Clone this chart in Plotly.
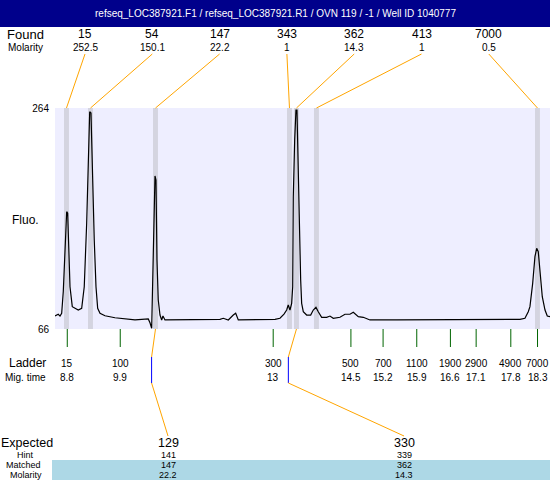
import numpy as np
import plotly.graph_objects as go

# ---------------- data ----------------
title_text = "refseq_LOC387921.F1 / refseq_LOC387921.R1 / OVN 119 / -1 / Well ID 1040777"

found_bp = [15, 54, 147, 343, 362, 413, 7000]
found_molarity = ["252.5", "150.1", "22.2", "1", "14.3", "1", "0.5"]
found_time = [8.784, 9.269, 10.582, 13.289, 13.430, 13.834, 18.299]

ladder_bp = [15, 100, 300, 500, 700, 1100, 1900, 2900, 4900, 7000]
ladder_time = [8.80, 9.87, 12.96, 14.53, 15.18, 15.86, 16.54, 17.06, 17.76, 18.30]
ladder_time_labels = ["8.8", "9.9", "13", "14.5", "15.2", "15.9", "16.6", "17.1", "17.8", "18.3"]

expected_bp = [129, 330]
hint_bp = [141, 339]
matched_bp = [147, 362]
matched_molarity = ["22.2", "14.3"]

y_ticks = [66, 264]

trace_time = [8.552, 8.618, 8.653, 8.687, 8.719, 8.754, 8.788, 8.808, 8.834, 8.855,
              8.901, 8.956, 9.022, 9.091, 9.143, 9.192, 9.224, 9.253, 9.279, 9.305,
              9.345, 9.380, 9.414, 9.461, 9.562, 9.764, 9.966, 10.168, 10.436, 10.471,
              10.505, 10.525, 10.552, 10.572, 10.592, 10.612, 10.638, 10.673, 10.707, 10.733,
              10.774, 10.976, 11.885, 11.952, 12.053, 12.154, 12.202, 12.255, 12.558, 12.626,
              12.861, 12.996, 13.097, 13.178, 13.232, 13.264, 13.299, 13.333, 13.354, 13.366,
              13.394, 13.420, 13.440, 13.461, 13.487, 13.515, 13.535, 13.568, 13.636, 13.717,
              13.770, 13.824, 13.871, 13.939, 14.040, 14.107, 14.174, 14.309, 14.410, 14.511,
              14.578, 14.679, 14.780, 14.915, 15.454, 16.598, 17.608, 17.778, 17.945, 18.046,
              18.113, 18.147, 18.202, 18.248, 18.283, 18.315, 18.349, 18.396, 18.451, 18.497,
              18.552]
trace_fluo = [77.6, 79.2, 77.6, 80.1, 99.4, 133.8, 171.1, 169.7, 134.1, 103.9,
              86.0, 84.5, 83.0, 84.5, 103.9, 160.7, 217.4, 260.7, 259.5, 211.4,
              145.7, 103.9, 84.5, 80.1, 77.9, 76.1, 75.0, 74.1, 75.0, 71.6,
              66.6, 103.9, 151.7, 203.1, 199.5, 127.8, 92.0, 78.5, 74.1, 77.6,
              74.1, 74.1, 74.7, 75.6, 74.1, 78.5, 80.1, 74.1, 74.1, 74.7,
              74.1, 74.7, 75.6, 79.4, 83.0, 87.5, 83.0, 89.0, 103.9, 184.5,
              235.3, 262.2, 262.2, 211.4, 151.7, 109.9, 89.0, 81.5, 78.5, 78.5,
              83.0, 85.4, 81.5, 76.5, 76.5, 77.6, 75.6, 76.5, 79.2, 79.2,
              81.0, 77.0, 76.5, 74.1, 74.1, 74.1, 74.7, 74.1, 74.7, 75.6,
              81.5, 86.0, 106.9, 130.8, 138.3, 135.3, 115.9, 94.9, 83.0, 77.6,
              77.0]

# ---------------- layout helpers ----------------
W, H = 550, 480
ML, MR, MT, MB = 55, 0, 108, 151
PH = H - MT - MB
PW = W - ML - MR
X_RANGE = [8.552, 18.552]


def py(pix):
    """pixel row -> paper y"""
    return (H - MB - pix) / PH


def px(pix):
    """pixel column -> paper x"""
    return (pix - ML) / PW


FONT = "Arial, Liberation Sans, sans-serif"
ORANGE = "#FFA500"


def label(text, x, y, size, xref="x", color="black"):
    return dict(text=text, xref=xref, yref="paper", x=x, y=y, showarrow=False,
                xanchor="center", yanchor="middle",
                font=dict(size=size, family=FONT, color=color))


fig = go.Figure()
fig.add_trace(go.Scatter(x=trace_time, y=trace_fluo, mode="lines",
                         line=dict(color="black", width=1.2), hoverinfo="skip",
                         showlegend=False))

shapes = []
ann = []

# found peak bands
for t in found_time:
    shapes.append(dict(type="rect", xref="x", yref="paper", x0=t - 0.05, x1=t + 0.05,
                       y0=0, y1=1, fillcolor="#D4D4E0", line=dict(width=0), layer="below"))

# title bar
shapes.append(dict(type="rect", xref="paper", yref="paper", x0=px(0), x1=1,
                   y0=py(27), y1=py(0), fillcolor="#00008B", line=dict(width=0)))
ann.append(label(title_text, px(W / 2), py(14), 10, xref="paper", color="white"))

# found labels row
step = 67.3 / 49.5
lab_x = [9.158 + i * step for i in range(len(found_bp))]
for lx, bp, mol, t in zip(lab_x, found_bp, found_molarity, found_time):
    ann.append(label(str(bp), lx, py(34), 12))
    ann.append(label(mol, lx, py(47), 10))
    shapes.append(dict(type="line", xref="x", yref="paper", x0=lx, y0=py(54), x1=t, y1=1,
                       line=dict(color=ORANGE, width=1)))

lcx = px(25)
ann.append(label("Found", lcx, py(34), 13, xref="paper"))
ann.append(label("Molarity", lcx, py(47), 10, xref="paper"))
ann.append(label("Fluo.", lcx, py(220), 12, xref="paper"))

# ladder
for bp, t, lab in zip(ladder_bp, ladder_time, ladder_time_labels):
    shapes.append(dict(type="line", xref="x", yref="paper", x0=t, x1=t, y0=0, y1=py(347),
                       line=dict(color="#006400", width=1)))
    ann.append(label(str(bp), t, py(363), 10))
    ann.append(label(lab, t, py(377), 10))
ann.append(label("Ladder", px(27), py(363), 12, xref="paper"))
ann.append(label("Mig. time", lcx, py(377), 10, xref="paper"))

# expected / matched
shapes.append(dict(type="rect", xref="paper", yref="paper", x0=px(52), x1=1,
                   y0=py(480), y1=py(460), fillcolor="#ADD8E6", line=dict(width=0), layer="below"))
exp_x = [10.835, 15.603]
rows = [(443.0, 12.5), (454.5, 9), (464.5, 9), (474.5, 9)]
for ex, e, h, m, mol in zip(exp_x, expected_bp, hint_bp, matched_bp, matched_molarity):
    ht = float(np.interp(h, ladder_bp, ladder_time))
    mt = found_time[found_bp.index(m)]
    shapes.append(dict(type="line", xref="x", yref="paper", x0=mt, y0=0, x1=ht, y1=py(357),
                       line=dict(color=ORANGE, width=1)))
    shapes.append(dict(type="line", xref="x", yref="paper", x0=ht, y0=py(357), x1=ht, y1=py(383),
                       line=dict(color="#0000FF", width=1)))
    shapes.append(dict(type="line", xref="x", yref="paper", x0=ht, y0=py(383), x1=ex, y1=py(436),
                       line=dict(color=ORANGE, width=1)))
    for txt, (row, sz) in zip([str(e), str(h), str(m), mol], rows):
        ann.append(label(txt, ex, py(row), sz))
for txt, (row, sz), cx in zip(["Expected", "Hint", "Matched", "Molarity"], rows, [27, 25, 23, 26]):
    ann.append(label(txt, px(cx), py(row), sz, xref="paper"))

fig.update_layout(
    width=W, height=H, margin=dict(l=ML, r=MR, t=MT, b=MB),
    paper_bgcolor="white", plot_bgcolor="#EEEEFF",
    shapes=shapes, annotations=ann, showlegend=False,
    font=dict(family=FONT, color="black"),
    xaxis=dict(range=X_RANGE, showgrid=False, zeroline=False, showticklabels=False,
               ticks="", showline=False, fixedrange=True),
    yaxis=dict(range=[66, 264], tickvals=y_ticks, ticktext=[str(v) for v in y_ticks],
               showgrid=False, zeroline=False, ticks="", showline=False,
               tickfont=dict(size=10, family=FONT, color="black"),
               ticklabelstandoff=5, fixedrange=True),
)

fig.write_html("out.html", config={"displayModeBar": False},
               post_script="document.body.style.margin='0';document.body.style.overflow='hidden';")
